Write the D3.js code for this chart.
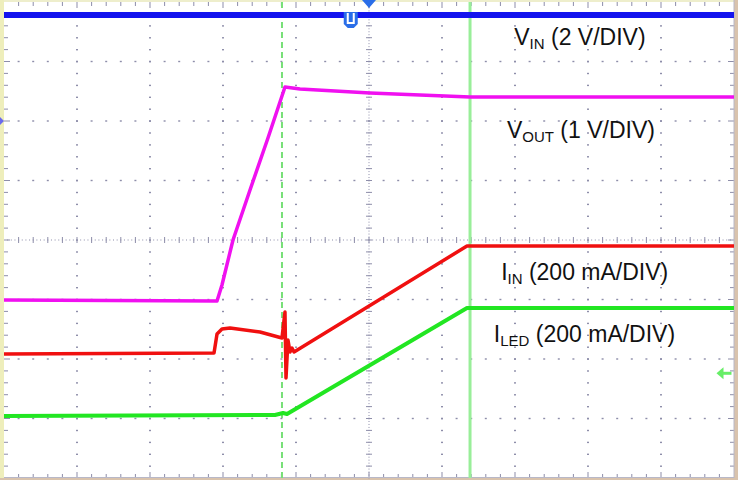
<!DOCTYPE html>
<html><head><meta charset="utf-8">
<script src="https://cdn.jsdelivr.net/npm/d3@7"></script>
<style>html,body{margin:0;padding:0;background:#fff;}svg{display:block;}</style>
</head><body>
<svg id="c" width="738" height="480"></svg>
<script>
// ---- data (time in divisions 0..10, amplitude in divisions -4..4) ----
const vinT  = [0, 10];
const vinY  = [3.78, 3.78];
const voutT = [0, 2.918, 2.986, 3.137, 3.37, 3.616, 3.849, 4.055, 5.014, 6.384, 10];
const voutY = [-1.008, -1.025, -0.756, 0, 0.84, 1.714, 2.571, 2.538, 2.471, 2.403, 2.403];
const iinT  = [0, 2.877, 2.918, 2.986, 3.096, 3.507, 3.808, 3.849, 3.863, 3.890, 3.918, 3.945, 3.973, 6.342, 10];
const iinY  = [-1.916, -1.899, -1.58, -1.496, -1.479, -1.546, -1.647, -1.21, -2.319, -1.681, -1.882, -1.815, -1.882, -0.101, -0.101];
const iledT = [0, 3.712, 3.822, 3.877, 6.342, 10];
const iledY = [-2.958, -2.941, -2.908, -2.924, -1.143, -1.143];
const labels = [
  {main: "V", sub: "IN",  rest: " (2 V/DIV)",    t: 6.99, y: 3.28},
  {main: "V", sub: "OUT", rest: " (1 V/DIV)",    t: 6.89, y: 1.72},
  {main: "I", sub: "IN",  rest: " (200 mA/DIV)", t: 6.81, y: -0.68},
  {main: "I", sub: "LED", rest: " (200 mA/DIV)", t: 6.71, y: -1.72}
];
const cursorDashedT = 3.808;
const cursorSolidT = 6.384;

const svg = d3.select("#c");
const x = d3.scaleLinear().domain([0, 10]).range([4, 734]);
const y = d3.scaleLinear().domain([-4, 4]).range([478, 2]);

// frame
svg.append("rect").attr("x",0).attr("y",0).attr("width",738).attr("height",480).attr("fill","#d9c3ad");
svg.append("rect").attr("x",0).attr("y",0).attr("width",4).attr("height",478).attr("fill","#eeeebb");
svg.append("rect").attr("x",4).attr("y",0).attr("width",730).attr("height",478).attr("fill","#ffffff");
svg.append("rect").attr("x",4).attr("y",0).attr("width",730).attr("height",2).attr("fill","#eeeecc");

const gridCol = "#8e8eaa";
const g = svg.append("g");
// vertical major grid lines (dotted)
for (let k = 1; k < 10; k++) {
  for (let m = -19; m < 20; m++) {
    const v = m / 5;
    if (k === 5) {
      g.append("rect").attr("x", x(k)-3).attr("y", y(v)-0.5).attr("width", 6).attr("height", 1).attr("fill", gridCol);
    } else {
      g.append("rect").attr("x", x(k)-1).attr("y", y(v)-0.6).attr("width", 2).attr("height", 1.4).attr("fill", gridCol);
    }
  }
  if (k === 5) {
    for (let m = -80; m < 80; m++) {
      g.append("rect").attr("x", x(k)-0.5).attr("y", y(m/20)-0.5).attr("width", 1).attr("height", 1).attr("fill", gridCol);
    }
  }
}
// horizontal major grid lines
for (let k = -3; k <= 3; k++) {
  for (let m = 1; m < 50; m++) {
    const t = m / 5;
    if (k === 0) {
      g.append("rect").attr("x", x(t)-0.5).attr("y", y(k)-3).attr("width", 1).attr("height", 6).attr("fill", gridCol);
    } else {
      g.append("rect").attr("x", x(t)-1).attr("y", y(k)-0.7).attr("width", 2).attr("height", 1.4).attr("fill", gridCol);
    }
  }
  if (k === 0) {
    for (let m = 1; m < 200; m++) {
      g.append("rect").attr("x", x(m/20)-0.5).attr("y", y(k)-0.5).attr("width", 1).attr("height", 1).attr("fill", gridCol);
    }
  }
}
// edge ticks
for (let m = 1; m < 50; m++) {
  const t = m / 5, len = (m % 5 === 0) ? 6 : 4;
  g.append("rect").attr("x", x(t)-0.5).attr("y", y(4)).attr("width", 1).attr("height", len).attr("fill", gridCol);
  g.append("rect").attr("x", x(t)-0.5).attr("y", y(-4)-len).attr("width", 1).attr("height", len).attr("fill", gridCol);
}
for (let m = -19; m < 20; m++) {
  const v = m / 5, len = (m % 5 === 0) ? 6 : 4;
  g.append("rect").attr("x", x(0)).attr("y", y(v)-0.5).attr("width", len).attr("height", 1).attr("fill", gridCol);
  g.append("rect").attr("x", x(10)-len).attr("y", y(v)-0.5).attr("width", len).attr("height", 1).attr("fill", gridCol);
}
svg.append("line").attr("x1", x(10)).attr("x2", x(10)).attr("y1", 0).attr("y2", 478).attr("stroke", "#b8b8c8").attr("stroke-width", 1);
svg.append("line").attr("x1", 4).attr("x2", 734).attr("y1", 477.5).attr("y2", 477.5).attr("stroke", "#b8b8c8").attr("stroke-width", 1);

// cursors
svg.append("line").attr("x1", x(cursorDashedT)).attr("x2", x(cursorDashedT)).attr("y1", 2).attr("y2", 478)
  .attr("stroke", "#77e077").attr("stroke-width", 2).attr("stroke-dasharray", "6,4");
svg.append("line").attr("x1", x(cursorSolidT)).attr("x2", x(cursorSolidT)).attr("y1", 2).attr("y2", 478)
  .attr("stroke", "#99ee99").attr("stroke-width", 3);

// traces
const line = d3.line().x(d => x(d[0])).y(d => y(d[1]));
const traces = [
  {t: vinT,  v: vinY,  c: "#1414ee", w: 6},
  {t: voutT, v: voutY, c: "#f010f0", w: 3.5},
  {t: iinT,  v: iinY,  c: "#f01010", w: 3.5},
  {t: iledT, v: iledY, c: "#22e622", w: 4}
];
traces.forEach(tr => {
  svg.append("path").datum(d3.zip(tr.t, tr.v)).attr("d", line)
    .attr("fill", "none").attr("stroke", tr.c).attr("stroke-width", tr.w)
    .attr("stroke-linejoin", "round").attr("stroke-linecap", "butt");
});

// markers
svg.append("path").attr("d", `M${x(5)-7},0 L${x(5)+7},0 L${x(5)},8 Z`).attr("fill", "#2a6ee8");
const mx = x(4.75), my = 20;
svg.append("path").attr("d", `M${mx-7},${my-8} L${mx+7},${my-8} L${mx+7},${my+4} L${mx+3},${my+8} L${mx-3},${my+8} L${mx-7},${my+4} Z`).attr("fill", "#2a6ee8");
svg.append("path").attr("d", `M${mx-3},${my-7} L${mx-3},${my+3} L${mx+3},${my+3} L${mx+3},${my-7}`).attr("fill", "none").attr("stroke", "#fff").attr("stroke-width", 2);
svg.append("path").attr("d", `M0,${y(2)-4} L4,${y(2)} L0,${y(2)+4} Z`).attr("fill", "#6a6aee");
const ay = y(-2.24);
svg.append("path").attr("d", `M${x(9.76)},${ay} L${x(9.76)+7},${ay-6} L${x(9.76)+7},${ay+6} Z`).attr("fill", "#66ee66");
svg.append("rect").attr("x", x(9.76)+6).attr("y", ay-1.5).attr("width", 9).attr("height", 3).attr("fill", "#66ee66");

// labels
labels.forEach(l => {
  const t = svg.append("text").attr("x", x(l.t)).attr("y", y(l.y))
    .attr("font-family", "Liberation Sans, Arial, sans-serif").attr("font-size", 23).attr("fill", "#111");
  t.append("tspan").text(l.main);
  t.append("tspan").attr("font-size", 15).attr("dy", 4).text(l.sub);
  t.append("tspan").attr("dy", -4).text(l.rest);
});
</script>
</body></html>
